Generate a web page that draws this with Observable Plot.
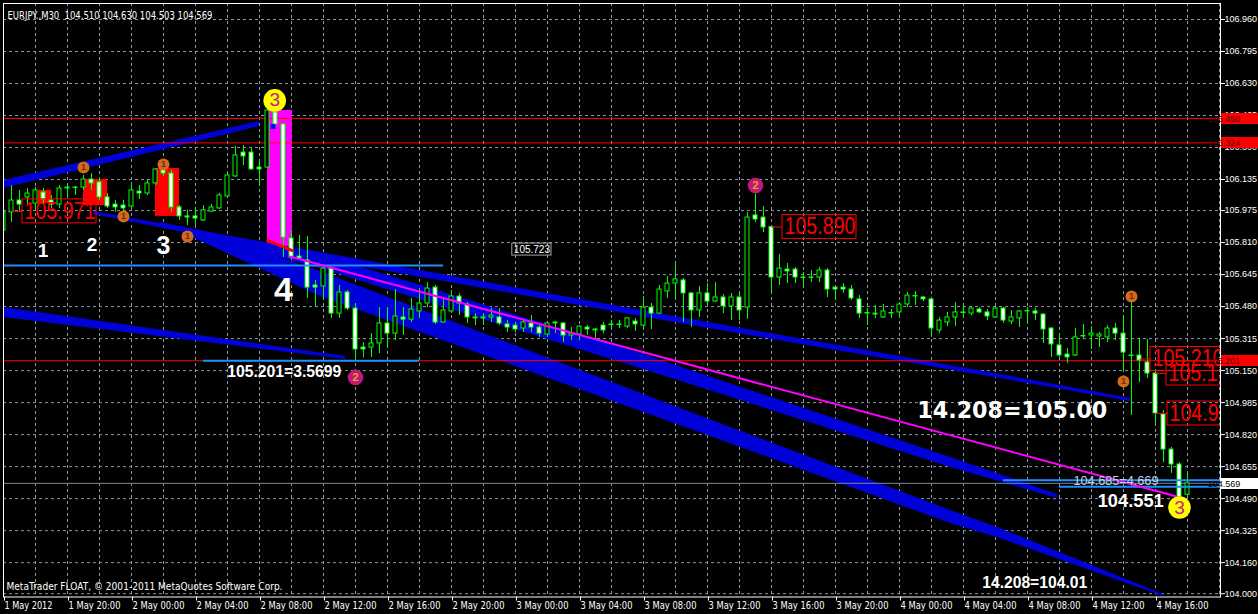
<!DOCTYPE html>
<html>
<head>
<meta charset="utf-8">
<script src="https://cdn.jsdelivr.net/npm/d3@7"></script>
<script src="https://cdn.jsdelivr.net/npm/@observablehq/plot@0.6"></script>
<style>
  html, body { margin: 0; padding: 0; background: #000; }
  #chart svg { display: block; }
</style>
</head>
<body>
<div id="chart"></div>
<script>
// ---------------- DATA ----------------
const symbolTitle = "EURJPY.,M30\u00a0 104.510 104.630 104.503 104.569";
const copyright = "MetaTrader FLOAT, \u00a9 2001-2011 MetaQuotes Software Corp.";

// M30 bars from 1 May 2012 16:00 (bar 0) to 4 May 2012 18:00 (bar 148)
const opens = [105.872,105.966,106.027,106.043,106.011,106.068,106.027,106.006,106.094,106.094,
106.094,106.135,106.120,106.043,106.006,106.001,105.996,106.073,106.063,106.115,
106.187,106.166,105.991,105.945,105.945,105.924,105.970,105.986,106.048,106.151,
106.274,106.274,106.197,106.197,106.481,106.419,105.831,105.738,105.718,105.589,
105.584,105.676,105.444,105.553,105.470,105.269,105.269,105.290,105.393,105.341,
105.424,105.413,105.455,105.496,105.578,105.398,105.455,105.532,105.491,105.424,
105.419,105.424,105.424,105.388,105.382,105.367,105.393,105.372,105.336,105.393,
105.393,105.331,105.336,105.372,105.357,105.382,105.385,105.388,105.377,105.403,
105.382,105.475,105.444,105.558,105.599,105.615,105.548,105.460,105.548,105.506,
105.527,105.481,105.527,105.475,105.950,105.939,105.890,105.630,105.671,105.671,
105.630,105.628,105.630,105.666,105.578,105.578,105.568,105.517,105.444,105.444,
105.424,105.444,105.450,105.491,105.532,105.527,105.517,105.357,105.398,105.424,
105.447,105.444,105.465,105.450,105.424,105.470,105.403,105.419,105.455,105.455,
105.439,105.367,105.280,105.233,105.228,105.326,105.331,105.326,105.321,105.367,
105.341,105.228,105.228,105.192,105.135,104.924,104.743,104.666,104.510];
const highs = [106.130,106.104,106.079,106.089,106.094,106.089,106.053,106.104,106.104,106.099,
106.156,106.166,106.140,106.063,106.027,106.027,106.120,106.104,106.130,106.192,
106.233,106.182,106.001,105.976,105.986,106.001,106.006,106.063,106.166,106.305,
106.310,106.295,106.233,106.500,106.491,106.424,105.872,105.847,105.841,105.615,
105.692,105.682,105.589,105.563,105.496,105.295,105.341,105.475,105.475,105.568,
105.475,105.522,105.573,105.604,105.589,105.527,105.563,105.548,105.501,105.444,
105.444,105.470,105.470,105.408,105.398,105.408,105.434,105.382,105.398,105.403,
105.398,105.372,105.382,105.382,105.367,105.398,105.408,105.408,105.424,105.419,
105.532,105.496,105.589,105.635,105.697,105.625,105.553,105.584,105.599,105.604,
105.542,105.548,105.548,105.965,106.079,105.996,105.895,105.749,105.702,105.682,
105.656,105.666,105.682,105.676,105.580,105.599,105.589,105.537,105.470,105.486,
105.491,105.465,105.501,105.553,105.558,105.532,105.527,105.424,105.450,105.501,
105.496,105.475,105.475,105.465,105.481,105.475,105.460,105.460,105.475,105.470,
105.444,105.372,105.341,105.264,105.367,105.388,105.377,105.346,105.382,105.393,
105.434,105.501,105.316,105.310,105.151,104.944,104.754,104.676,104.630];
const lows = [105.836,105.914,105.966,106.001,105.976,106.001,105.986,105.986,106.053,106.053,
106.079,106.079,106.027,105.986,105.966,105.966,105.986,106.032,106.053,106.104,
106.151,105.966,105.924,105.898,105.898,105.919,105.966,105.981,106.043,106.146,
106.207,106.182,106.104,106.192,106.398,105.733,105.718,105.718,105.522,105.475,
105.512,105.419,105.419,105.460,105.201,105.215,105.218,105.238,105.269,105.305,
105.331,105.398,105.419,105.475,105.388,105.393,105.444,105.434,105.393,105.382,
105.382,105.398,105.382,105.346,105.346,105.346,105.346,105.321,105.321,105.341,
105.295,105.305,105.305,105.331,105.305,105.341,105.367,105.367,105.367,105.352,
105.357,105.362,105.439,105.522,105.522,105.398,105.372,105.424,105.486,105.501,
105.444,105.408,105.408,105.414,105.914,105.862,105.548,105.589,105.599,105.599,
105.578,105.604,105.604,105.527,105.512,105.548,105.512,105.419,105.382,105.419,
105.419,105.419,105.424,105.475,105.486,105.506,105.321,105.341,105.377,105.377,
105.424,105.434,105.444,105.408,105.419,105.393,105.388,105.372,105.393,105.408,
105.290,105.218,105.218,105.187,105.223,105.310,105.259,105.269,105.295,105.305,
105.140,104.919,105.089,105.109,104.877,104.676,104.620,104.491,104.503];
const closes = [105.966,106.027,106.006,106.063,106.079,106.032,106.006,106.089,106.089,106.092,
106.135,106.115,106.043,105.996,105.991,105.986,106.079,106.063,106.115,106.187,
106.166,105.991,105.945,105.939,105.934,105.976,105.991,106.053,106.156,106.259,
106.254,106.187,106.187,106.491,106.419,105.836,105.733,105.728,105.578,105.578,
105.676,105.444,105.553,105.470,105.259,105.259,105.290,105.393,105.341,105.429,
105.413,105.465,105.496,105.573,105.398,105.460,105.532,105.496,105.424,105.419,
105.424,105.434,105.393,105.372,105.362,105.398,105.372,105.341,105.393,105.398,
105.331,105.341,105.377,105.362,105.362,105.357,105.388,105.385,105.419,105.388,
105.475,105.444,105.568,105.599,105.620,105.548,105.460,105.548,105.506,105.527,
105.481,105.527,105.460,105.939,105.929,105.888,105.630,105.676,105.661,105.630,
105.628,105.630,105.666,105.568,105.568,105.568,105.522,105.444,105.447,105.439,
105.455,105.447,105.491,105.537,105.535,105.517,105.367,105.408,105.424,105.450,
105.450,105.470,105.450,105.429,105.470,105.408,105.424,105.455,105.457,105.444,
105.362,105.285,105.228,105.218,105.321,105.329,105.341,105.336,105.367,105.341,
105.243,105.225,105.202,105.135,104.929,104.743,104.666,104.496,104.569];

const timeLabels = ["1 May 2012","1 May 20:00","2 May 00:00","2 May 04:00","2 May 08:00","2 May 12:00",
  "2 May 16:00","2 May 20:00","3 May 00:00","3 May 04:00","3 May 08:00","3 May 12:00","3 May 16:00",
  "3 May 20:00","4 May 00:00","4 May 04:00","4 May 08:00","4 May 12:00","4 May 16:00"];
const barsPerLabel = 8;
const priceTicks = [106.960,106.795,106.630,106.465,106.300,106.135,105.975,105.810,105.645,105.480,
  105.315,105.150,104.985,104.820,104.655,104.490,104.325,104.160,104.000];

// horizontal levels
const redLevels = [106.450, 106.324, 105.201];
const bidPrice = 104.569;
// light-blue level segments: [startBar, endBar|null(=right edge), price]
const blueLevels = [[0, 55, 105.692], [25, 52, 105.201], [125, null, 104.585], [132, null, 104.551]];
// magenta trend line [bar, price]
const magentaLine = [[35.8, 105.738], [147.1, 104.496]];
const redSegment = [[33.0, 105.821], [36.1, 105.769]];

// filled channel triangles: [bar, upper price, lower price]
const bandUpperLeft = [[0, 106.130, 106.089], [32, 106.434, 106.408]];
const bandLowerLeft = [[0, 105.475, 105.424], [42.75, 105.223, 105.207]];
const bandUpper = [[11.25, 105.970, 105.955], [39.6, 105.759, 105.723], [84.6, 105.424, 105.393], [124.6, 105.130, 105.109], [140.9, 105.006, 104.991]];
const bandMiddle = [[19.6, 105.914, 105.893], [39.6, 105.749, 105.676], [79.6, 105.238, 105.161], [118.4, 104.702, 104.651], [131.75, 104.511, 104.491]];
const bandLower = [[23.4, 105.883, 105.841], [39.6, 105.661, 105.532], [84.6, 104.955, 104.867], [118.4, 104.429, 104.362], [124.6, 104.336, 104.285], [145, 103.996, 103.986]];

// pattern rectangles: [bar1, bar2, price1, price2]
const redBoxes = [[4.375, 6.0, 106.079, 106.011], [10.0, 13.0, 106.135, 106.001], [19.0, 22.0, 106.192, 105.945]];
const magentaBox = [[33.0, 36.1, 106.491, 105.733]];
const blueSquare = [[33.7, 106.408]];

// pivot markers: [bar, price]
const pivots1 = [[10, 106.197], [15, 105.945], [20, 106.213], [23, 105.841], [141, 105.532], [140, 105.094]];
const pivots2 = [[44, 105.115], [94, 106.104]];
const pivots3 = [[33.9, 106.543], [147, 104.444]];

// price labels: [anchorBar, boxBar, price, text]
const priceLabels = [[1, 2.375, 105.971, "105.971"], [96, 97.375, 105.890, "105.890"],
  [142, 143.375, 105.210, "105.210"], [144, 145.375, 105.135, "105.135"], [144, 145.5, 104.929, "104.929"]];

// white annotations: [bar, price, text]
const waveLabels = [[4.94, 105.769, "1"], [11.06, 105.800, "2"], [19.99, 105.790, "3"], [34.99, 105.566, "4"]];
const noteSmallBold = [[35.1, 105.145, "105.201=3.5699"], [128.9, 104.058, "14.208=104.01"]];
const noteBig = [[126.1, 104.942, "14.208=105.00"]];
const noteMid = [[140.9, 104.475, "104.551"]];
const noteThin = [[139.06, 104.584, "104.685=4.669"]];
const smallBox = [[63.6, 68.5, 105.805, 105.743, "105.723"]];

// ---------------- CHART ----------------
const X_MAX = 152.125;          // right edge of the chart window in bars
const BAR_BOX = 9.25;           // red label box width in bars
const BOX_HALF = 0.0618;        // red label box half height in price
const candles = opens.map((o, i) => ({i, o, h: highs[i], l: lows[i], c: closes[i]}));
const bulls = candles.filter(d => d.c >= d.o);
const bears = candles.filter(d => d.c < d.o);
const bandRows = [];
[["ul", bandUpperLeft], ["ll", bandLowerLeft], ["u", bandUpper], ["m", bandMiddle], ["lo", bandLower]]
  .forEach(([name, pts]) => pts.forEach(([i, t, b]) => bandRows.push({band: name, i, t, b})));
const gridBars = d3.range(0, 153, 4);
const timeTickBars = timeLabels.map((_, k) => k * barsPerLabel);
const F = "'Liberation Sans', Arial, sans-serif";
const AXF = "'DejaVu Sans', 'Liberation Sans', sans-serif";

const chart = Plot.plot({
  width: 1258, height: 614,
  marginLeft: 3, marginRight: 38, marginTop: 3, marginBottom: 17.5,
  style: {background: "#000", color: "#fff", fontFamily: F, fontSize: "10px", overflow: "visible"},
  x: {domain: [0, X_MAX]},
  y: {domain: [103.983, 107.0425]},
  marks: [
    Plot.gridY(priceTicks, {stroke: "#8f99a3", strokeOpacity: 1, strokeDasharray: "3,3"}),
    Plot.gridX(gridBars, {stroke: "#8f99a3", strokeOpacity: 1, strokeDasharray: "3,3"}),
    Plot.rect(redBoxes, {x1: d => d[0], x2: d => d[1], y1: d => d[2], y2: d => d[3], fill: "#ff0000"}),
    Plot.rect(magentaBox, {x1: d => d[0], x2: d => d[1], y1: d => d[2], y2: d => d[3], fill: "#ff00ff"}),
    Plot.area(bandRows, {x1: "i", y1: "t", y2: "b", z: "band", fill: "#0000d8", clip: true}),
    Plot.ruleY(redLevels, {stroke: "#ff0000"}),
    Plot.ruleY([bidPrice], {stroke: "#778899"}),
    Plot.ruleX(candles, {x: "i", y1: "l", y2: "h", stroke: "#00ff00", clip: true}),
    Plot.rect(bulls, {x1: d => d.i - 0.25, x2: d => d.i + 0.25, y1: "o", y2: "c", fill: "#000", stroke: "#00ff00", clip: true}),
    Plot.rect(bears, {x1: d => d.i - 0.25, x2: d => d.i + 0.25, y1: "o", y2: "c", fill: "#fff", stroke: "#00ff00", clip: true}),
    Plot.ruleY(blueLevels, {x1: d => d[0], x2: d => d[1] ?? X_MAX, y: d => d[2], stroke: "#1e90ff", strokeWidth: 2, clip: true}),
    Plot.line(magentaLine, {x: d => d[0], y: d => d[1], stroke: "#ff00ff", strokeWidth: 2}),
    Plot.line(redSegment, {x: d => d[0], y: d => d[1], stroke: "#ff0000", strokeWidth: 3}),
    Plot.dot(blueSquare, {x: d => d[0], y: d => d[1], symbol: "square", r: 2.8, fill: "#0000ff"}),
    // red price labels
    Plot.link(priceLabels, {x1: d => d[0], x2: d => d[1], y1: d => d[2], y2: d => d[2], stroke: "#ff0000", clip: true}),
    Plot.rect(priceLabels, {x1: d => d[1], x2: d => d[1] + BAR_BOX, y1: d => d[2] - BOX_HALF, y2: d => d[2] + BOX_HALF, stroke: "#ff0000", fill: "none", clip: true}),
    Plot.text(priceLabels, {x: d => d[1], y: d => d[2], text: d => d[3], textAnchor: "start", dx: 2, fill: "#ff0000", fontSize: 23, clip: true}),
    // small grey label
    Plot.rect(smallBox, {x1: d => d[0], x2: d => d[1], y1: d => d[2], y2: d => d[3], stroke: "#a0a4a8", fill: "none"}),
    Plot.text(smallBox, {x: d => (d[0] + d[1]) / 2, y: d => (d[2] + d[3]) / 2, text: d => d[4], fill: "#fff", fontSize: 10}),
    // pivot markers
    Plot.dot(pivots1, {x: d => d[0], y: d => d[1], r: 6, fill: "#d2691e"}),
    Plot.text(pivots1, {x: d => d[0], y: d => d[1], text: () => "1", fill: "#6b2e00", fontSize: 9, fontWeight: "bold"}),
    Plot.dot(pivots2, {x: d => d[0], y: d => d[1], r: 7.8, fill: "#c2187c"}),
    Plot.text(pivots2, {x: d => d[0], y: d => d[1], text: () => "2", fill: "#e0a020", fontSize: 11, fontWeight: "bold"}),
    Plot.dot(pivots3, {x: d => d[0], y: d => d[1], r: 11.3, fill: "#ffff00"}),
    Plot.text(pivots3, {x: d => d[0], y: d => d[1], text: () => "3", fill: "#c0208a", fontSize: 19}),
    // white annotations
    Plot.text(waveLabels, {x: d => d[0], y: d => d[1], text: d => d[2], fill: "#fff", fontWeight: "bold",
      fontSize: d => ({"1": 19, "2": 19, "3": 25, "4": 34})[d[2]]}),
    Plot.text(noteSmallBold, {x: d => d[0], y: d => d[1], text: d => d[2], fill: "#fff", fontWeight: "bold", fontSize: 16}),
    Plot.text(noteBig, {x: d => d[0], y: d => d[1], text: d => d[2], fill: "#fff", fontWeight: "bold", fontSize: 23, fontFamily: "'DejaVu Sans', sans-serif"}),
    Plot.text(noteMid, {x: d => d[0], y: d => d[1], text: d => d[2], fill: "#fff", fontWeight: "bold", fontSize: 18}),
    Plot.text(noteThin, {x: d => d[0], y: d => d[1], text: d => d[2], fill: "#c4d0e0", fontSize: 13}),
    // header / footer inside the frame
    Plot.text([symbolTitle], {frameAnchor: "top-left", text: d => d, dx: 4, dy: 8, fill: "#fff", fontSize: 10.5, fontFamily: AXF, textAnchor: "start"}),
    Plot.text([copyright], {frameAnchor: "bottom-left", text: d => d, dx: 3, dy: -7, fill: "#fff", fontSize: 10.5, fontFamily: AXF, textAnchor: "start"}),
    Plot.frame({stroke: "#fff"}),
    Plot.axisY({anchor: "right", ticks: priceTicks, tickFormat: d => d.toFixed(3), tickSize: 4, tickPadding: 0, color: "#fff", fontSize: 9, fontFamily: F, label: null}),
    Plot.axisX({anchor: "bottom", ticks: timeTickBars, tickFormat: d => timeLabels[Math.round(d / barsPerLabel)], tickSize: 4, tickPadding: 1, textAnchor: "start", dx: 1, color: "#fff", fontSize: 10.5, fontFamily: AXF, label: null})
  ]
});

// price badges on the axis
const badges = [
  {p: 106.450, t: "106.450", bg: "#ff0000", fg: "#5a0000"},
  {p: 106.324, t: "106.324", bg: "#ff0000", fg: "#5a0000"},
  {p: 105.201, t: "105.201", bg: "#ff0000", fg: "#5a0000"},
  {p: bidPrice, t: "104.569", bg: "#ffffff", fg: "#000000"}
];
const yS = chart.scale("y");
const svg = d3.select(chart);
const bg = svg.append("g").attr("font-family", F).attr("font-size", 9);
badges.forEach(b => {
  const yy = Math.round(yS.apply(b.p));
  bg.append("rect").attr("x", 1221).attr("y", yy - 5).attr("width", 37).attr("height", 11).attr("fill", b.bg);
  bg.append("text").attr("x", 1224).attr("y", yy + 3.5).attr("fill", b.fg).text(b.t);
});

// fit label widths to the reference
const widths = {"105.971": 71, "105.890": 71, "105.210": 71, "105.135": 71, "104.929": 71,
  "14.208=105.00": 190, "105.201=3.5699": 114, "14.208=104.01": 105, "104.551": 66, "104.685=4.669": 85,
  "1 May 2012": 48};
widths[symbolTitle] = 205; widths[copyright] = 276;
timeLabels.slice(1).forEach(t => widths[t] = 52);
svg.selectAll("text").each(function () {
  const w = widths[this.textContent];
  if (w) { this.setAttribute("textLength", w); this.setAttribute("lengthAdjust", "spacingAndGlyphs"); }
});

document.getElementById("chart").append(chart);
</script>
</body>
</html>
